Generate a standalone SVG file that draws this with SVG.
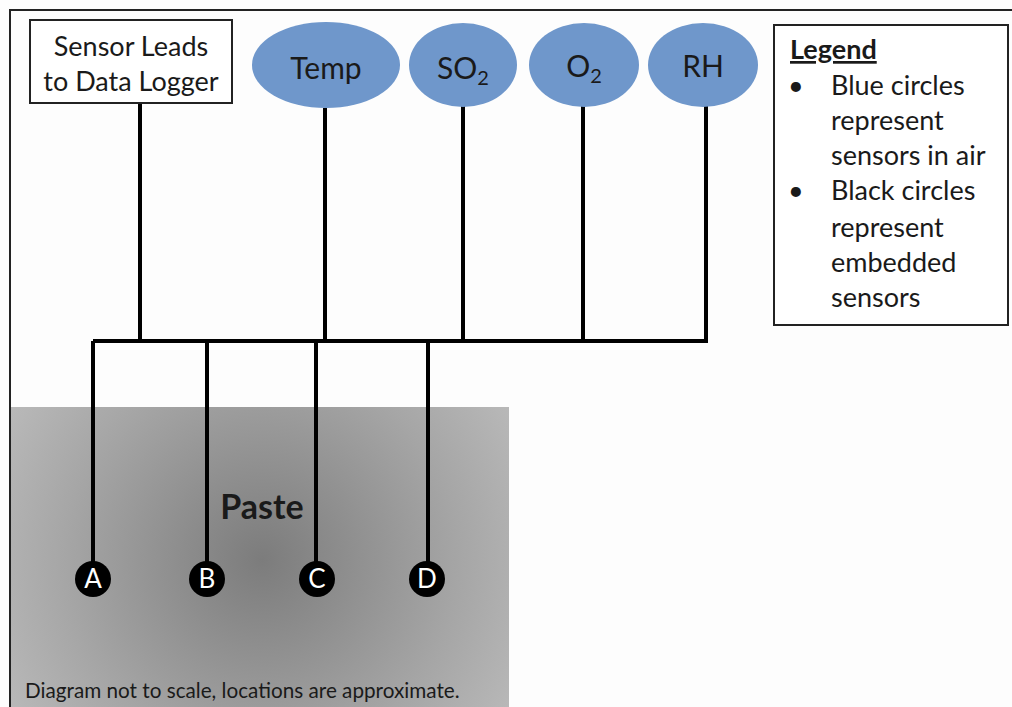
<svg xmlns="http://www.w3.org/2000/svg" width="1012" height="707" viewBox="0 0 1012 707">
<defs>
<radialGradient id="paste" cx="262" cy="560" r="330" gradientUnits="userSpaceOnUse">
<stop offset="0" stop-color="#7c7c7c"/>
<stop offset="0.6" stop-color="#a6a6a6"/>
<stop offset="1" stop-color="#c0c0c0"/>
</radialGradient>
<style>
text{font-family:Lato,"Open Sans",sans-serif;fill:#1a1a1a}
.lbl{font-size:27px;text-anchor:middle}
.big{font-size:30px;text-anchor:middle}
.sub{font-size:20px}
.sensor{fill:#6f97cb}
.wire{stroke:#000;stroke-width:4;fill:none}
.dot{fill:#000}
.dtxt{font-size:26px;fill:#fff;text-anchor:middle}
.leg{font-size:27px}
</style>
</defs>
<rect x="0" y="0" width="1012" height="707" fill="#fdfdfd"/>
<rect x="10" y="10" width="1010" height="710" fill="none" stroke="#222" stroke-width="2"/>
<rect id="paste-area" x="11" y="407" width="498" height="300" fill="url(#paste)"/>
<text x="262" y="519" style="font-size:34px;font-weight:bold;text-anchor:middle">Paste</text>
<text x="25" y="698" style="font-size:20.7px">Diagram not to scale, locations are approximate.</text>
<g id="connectors" class="wire">
<path d="M93,341 H708"/>
<path d="M140,103 V341"/>
<path d="M325,108 V341"/>
<path d="M463,106 V341"/>
<path d="M583,106 V341"/>
<path d="M706,106 V341"/>
<path d="M93,341 V562"/>
<path d="M207,341 V562"/>
<path d="M316,341 V562"/>
<path d="M428,341 V562"/>
</g>
<g id="logger">
<rect x="30" y="20" width="202" height="83" fill="#fff" stroke="#222" stroke-width="2"/>
<text class="lbl" x="131" y="56">Sensor Leads</text>
<text class="lbl" x="131" y="91">to Data Logger</text>
</g>
<g id="temp">
<ellipse class="sensor" cx="326" cy="65" rx="74" ry="43"/>
<text class="big" x="326" y="79">Temp</text>
</g>
<g id="so2">
<ellipse class="sensor" cx="463" cy="65" rx="54" ry="42"/>
<text class="big" x="463" y="79">SO<tspan class="sub" dy="6">2</tspan></text>
</g>
<g id="o2">
<ellipse class="sensor" cx="584" cy="65" rx="55" ry="42"/>
<text class="big" x="584" y="77">O<tspan class="sub" dy="6">2</tspan></text>
</g>
<g id="rh">
<ellipse class="sensor" cx="703" cy="65" rx="55" ry="42"/>
<text class="big" x="703" y="77">RH</text>
</g>
<g id="sensorA"><circle class="dot" cx="93" cy="579" r="18"/><text class="dtxt" x="93" y="588">A</text></g>
<g id="sensorB"><circle class="dot" cx="207" cy="579" r="18"/><text class="dtxt" x="207" y="588">B</text></g>
<g id="sensorC"><circle class="dot" cx="317" cy="579" r="18"/><text class="dtxt" x="317" y="588">C</text></g>
<g id="sensorD"><circle class="dot" cx="427" cy="579" r="18"/><text class="dtxt" x="427" y="588">D</text></g>
<g id="legend">
<rect x="774" y="25" width="234" height="300" fill="#fff" stroke="#222" stroke-width="2"/>
<text class="leg" x="790" y="59" style="font-weight:bold;text-decoration:underline">Legend</text>
<text class="leg" x="788" y="95">•</text>
<text class="leg" x="831" y="95">Blue circles</text>
<text class="leg" x="831" y="130">represent</text>
<text class="leg" x="831" y="165">sensors in air</text>
<text class="leg" x="788" y="200">•</text>
<text class="leg" x="831" y="200">Black circles</text>
<text class="leg" x="831" y="237">represent</text>
<text class="leg" x="831" y="272">embedded</text>
<text class="leg" x="831" y="307">sensors</text>
</g>
</svg>
